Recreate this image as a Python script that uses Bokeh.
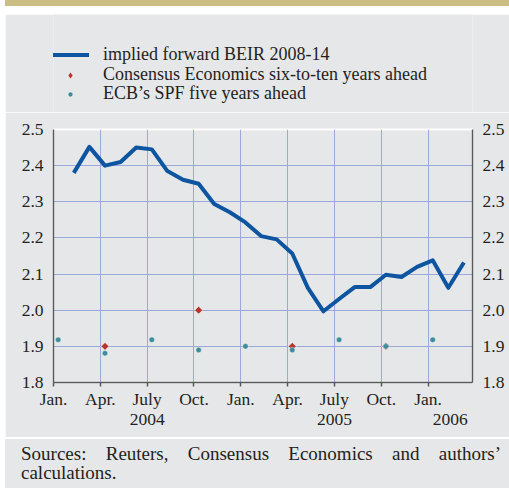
import math
from bokeh.plotting import figure
from bokeh.models import (Range1d, LinearAxis, FixedTicker, Legend, LegendItem, Div,
                          ColumnDataSource, Grid, NumeralTickFormatter)
from bokeh.layouts import column
from bokeh.embed import file_html
from bokeh.resources import INLINE

# ---- data (month index: 0 = Jan. 2004) ----
beir_month = [1, 2, 3, 4, 5, 6, 7, 8, 9, 10, 11, 12, 13,
              14, 15, 16, 17, 18, 19, 20, 21, 22, 23, 24, 25, 26]
beir_values = [2.38, 2.452, 2.40, 2.41, 2.45, 2.445, 2.385, 2.361, 2.35, 2.294,
               2.271, 2.243, 2.205, 2.196, 2.157, 2.062, 1.997, 2.031, 2.064,
               2.064, 2.098, 2.092, 2.12, 2.138, 2.062, 2.132]
consensus_month = [3, 9, 15, 21]
consensus_values = [1.90, 2.00, 1.90, 1.90]
spf_month = [0, 3, 6, 9, 12, 15, 18, 21, 24]
spf_values = [1.918, 1.881, 1.918, 1.89, 1.90, 1.89, 1.918, 1.90, 1.918]

tick_months = [0, 3, 6, 9, 12, 15, 18, 21, 24]
tick_labels = ["Jan.", "Apr.", "July", "Oct.", "Jan.", "Apr.", "July", "Oct.", "Jan."]
year_labels = ["2004", "2005", "2006"]
y_ticks = [1.8, 1.9, 2.0, 2.1, 2.2, 2.3, 2.4, 2.5]

series_names = ["implied forward BEIR 2008-14",
                "Consensus Economics six-to-ten years ahead",
                "ECB\u2019s SPF five years ahead"]
source_text = "Sources: Reuters, Consensus Economics and authors\u2019 calculations."

# ---- styling ----
BG = "#E6E7E8"
TAN = "#CBBE85"
BLUE = "#0D55A0"
RED = "#B5352C"
TEAL = "#3E8D9B"
GRIDC = "#9AA8DC"
AXC = "#58595B"
TXT = "#231F20"
FONT = "Liberation Serif"
IN_MONTH = 0.3     # observations taken about a third into each month
X_END = 26.85

LINE_KW = dict(line_color=BLUE, line_width=4, line_join="round")
CONS_KW = dict(marker="square", angle=math.pi / 4, size=5.5,
               fill_color=RED, line_color="white", line_width=0.5)
SPF_KW = dict(marker="circle", size=5.5, fill_color=TEAL, line_color="white", line_width=0.4)

def pos(months):
    return [m + IN_MONTH for m in months]

src_line = ColumnDataSource(dict(x=pos(beir_month), y=beir_values))
src_cons = ColumnDataSource(dict(x=pos(consensus_month), y=consensus_values))
src_spf = ColumnDataSource(dict(x=pos(spf_month), y=spf_values))

# ---------------- main chart ----------------
p = figure(width=504, height=325, x_range=Range1d(0, X_END), y_range=Range1d(1.8, 2.5),
           output_backend="svg", toolbar_location=None,
           x_axis_type=None, y_axis_type=None,
           min_border_left=48, min_border_right=37, min_border_top=17, min_border_bottom=55,
           background_fill_color=BG, border_fill_color=BG)
p.outline_line_color = "white"
p.outline_line_width = 2
p.margin = (0, 0, 0, 5)

xticker = FixedTicker(ticks=tick_months)
yticker = FixedTicker(ticks=y_ticks)
p.add_layout(Grid(dimension=0, ticker=xticker, grid_line_color=GRIDC, grid_line_width=1))
p.add_layout(Grid(dimension=1, ticker=yticker, grid_line_color=GRIDC, grid_line_width=1))

p.line("x", "y", source=src_line, **LINE_KW)
p.scatter("x", "y", source=src_cons, **CONS_KW)
p.scatter("x", "y", source=src_spf, **SPF_KW)

def style_axis(ax, line=True):
    ax.major_label_text_font = FONT
    ax.major_label_text_font_size = "17.5px"
    ax.major_label_text_color = TXT
    ax.minor_tick_line_color = None
    if line:
        ax.axis_line_color = AXC
        ax.axis_line_width = 1.5
    else:
        ax.axis_line_color = None

yl = LinearAxis(ticker=yticker, formatter=NumeralTickFormatter(format="0.0"))
yr = LinearAxis(ticker=yticker, formatter=NumeralTickFormatter(format="0.0"))
for ax in (yl, yr):
    style_axis(ax)
    ax.major_tick_out = 0
    ax.major_tick_in = 0
    ax.major_label_standoff = 10
p.add_layout(yl, "left")
p.add_layout(yr, "right")

xa = LinearAxis(ticker=xticker,
                major_label_overrides={m: l for m, l in zip(tick_months, tick_labels)})
style_axis(xa)
xa.major_tick_out = 4
xa.major_tick_in = 0
xa.major_tick_line_color = AXC
xa.major_tick_line_width = 1.5
xa.major_label_standoff = 2
p.add_layout(xa, "below")

year_pos = [(0 + 12) / 2, (12 + 24) / 2, (24 + X_END) / 2]
ya = LinearAxis(ticker=FixedTicker(ticks=year_pos),
                major_label_overrides={v: l for v, l in zip(year_pos, year_labels)})
style_axis(ya, line=False)
ya.major_tick_out = 0
ya.major_tick_in = 0
ya.major_tick_line_color = None
ya.major_label_standoff = 2
p.add_layout(ya, "below")

# ---------------- legend panel (its frame is aligned with the chart's frame) ----------------
lg = figure(width=504, height=98, x_range=Range1d(0, 1), y_range=Range1d(0, 1),
            output_backend="svg", toolbar_location=None,
            x_axis_type=None, y_axis_type=None,
            min_border_left=0, min_border_right=0, min_border_top=0, min_border_bottom=0,
            background_fill_color=BG, border_fill_color=BG)
lg.outline_line_color = None
lg.margin = (3, 0, 0, 5)
lg.grid.visible = False
# legend keys reuse the series sources; the values lie outside this panel's ranges
k_line = lg.line("x", "y", source=src_line, **LINE_KW)
k_cons = lg.scatter("x", "y", source=src_cons, marker="diamond", size=5.5,
                    fill_color=RED, line_color="white", line_width=0.5)
k_spf = lg.scatter("x", "y", source=src_spf, **SPF_KW)

ROW_H = 21
legend_rows = [(series_names[0], k_line, ROW_H, 47),
               (series_names[1], k_cons, 18, 27),
               (series_names[2], k_spf, 12, 8)]
for name, rend, gh, bottom_off in legend_rows:
    lgd = Legend(items=[LegendItem(label=name, renderers=[rend])],
                 location=(-2, bottom_off), background_fill_alpha=0, border_line_color=None,
                 padding=0, margin=0, spacing=0, label_height=ROW_H, glyph_height=gh,
                 glyph_width=38, label_standoff=14, label_text_font=FONT,
                 label_text_font_size="18px", label_text_color=TXT)
    lg.add_layout(lgd, "center")

# ---------------- frame pieces ----------------
top = Div(text="", width=509, height=9, styles={"background-color": TAN})
bottom = Div(text=source_text, width=504, height=53,
             styles={"background-color": BG, "border-top": "2.5px solid white",
                     "font-family": FONT, "font-size": "19px", "line-height": "19.4px",
                     "color": TXT, "text-align": "justify", "box-sizing": "border-box",
                     "padding": "5px 8px 0px 16px"})
bottom.margin = (0, 0, 0, 5)

layout = column(top, lg, p, bottom, spacing=0, margin=(-8, 0, -8, 0),
                styles={"background-color": "white"})

open("out.html", "w").write(file_html(layout, INLINE))
